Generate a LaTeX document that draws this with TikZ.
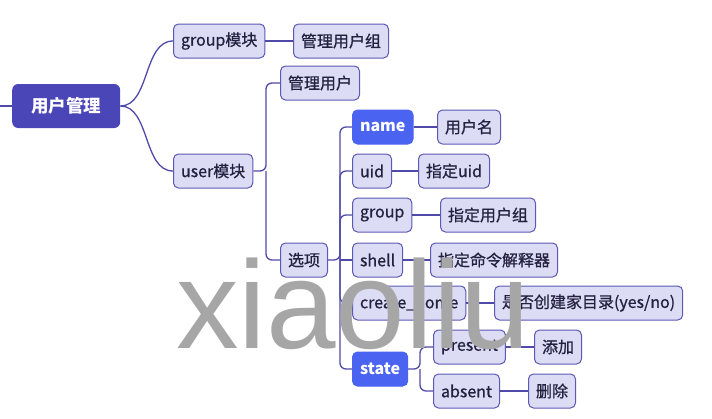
\documentclass[tikz,border=0pt]{standalone}
\usepackage{fontspec}
\setmainfont{Noto Sans CJK SC}
\newfontfamily\medfont{Noto Sans CJK SC}[FakeBold=0.7]
\newfontfamily\wmfont{Liberation Sans}
\definecolor{linkc}{HTML}{4F4AA8}
\definecolor{boxfill}{HTML}{DCDCF5}
\definecolor{boxdraw}{HTML}{5C58B5}
\definecolor{rootfill}{HTML}{4B46B8}
\definecolor{bluefill}{HTML}{4A63F0}
\definecolor{txt}{HTML}{23213F}
\definecolor{wm}{HTML}{A6A6A6}
\tikzset{
  leaf/.style={draw=boxdraw, line width=1pt, fill=boxfill, rounded corners=5pt,
    minimum height=34pt, inner xsep=7.5pt, anchor=west, text=txt, font=\medfont\fontsize{16}{16}\selectfont},
  hl/.style={leaf, fill=bluefill, draw=bluefill, text=white, font=\fontsize{16}{16}\selectfont\bfseries},
  rootbox/.style={fill=rootfill, rounded corners=6pt, minimum width=108pt, minimum height=44pt,
    anchor=west, text=white, font=\fontsize{17.5}{17.5}\selectfont\bfseries},
  link/.style={draw=linkc, line width=1.3pt, rounded corners=6pt},
}
\begin{document}
\begin{tikzpicture}[x=1pt,y=-1pt]
\useasboundingbox (0,0) rectangle (712,418);
\node[rootbox] (root) at (12,106) {用户管理};
\coordinate (rin) at (0,106);
\node[leaf] (gm) at (173,41) {group模块};
\node[leaf] (gmu) at (293,41) {管理用户组};
\node[leaf] (um) at (173,171) {user模块};
\node[leaf] (mu) at (280,83) {管理用户};
\node[leaf] (opt) at (280,260) {选项};
\node[hl] (name) at (352,127) {name};
\node[leaf] (namev) at (437,127) {用户名};
\node[leaf] (uid) at (352,171) {uid};
\node[leaf] (uidv) at (418,171) {指定uid};
\node[leaf] (grp) at (352,215) {group};
\node[leaf] (grpv) at (440,215) {指定用户组};
\node[leaf] (sh) at (352,260) {shell};
\node[leaf] (shv) at (430,260) {指定命令解释器};
\node[leaf] (ch) at (352,303) {create\_home};
\node[leaf] (chv) at (494,303) {是否创建家目录(yes/no)};
\node[hl] (st) at (352,369) {state};
\node[leaf] (pr) at (433,347) {present};
\node[leaf] (prv) at (534,347) {添加};
\node[leaf] (ab) at (433,391) {absent};
\node[leaf] (abv) at (528,391) {删除};
\coordinate (ub) at (266,171);
\coordinate (ob) at (340,260);
\coordinate (sb) at (420,369);
\begin{scope}[on background layer/.try]
\draw[link] (rin) -- (root.west);
\draw[link] (root.east) .. controls (150,106) and (143,41) .. (gm.west);
\draw[link] (root.east) .. controls (150,106) and (143,171) .. (um.west);
\draw[link] (gm.east) -- (gmu.west);
\draw[link] (um.east) -- (ub) |- (mu.west);
\draw[link] (ub) |- (opt.west);
\draw[link] (opt.east) -- (ob) |- (name.west);
\draw[link] (ob) |- (uid.west);
\draw[link] (ob) |- (grp.west);
\draw[link] (ob) -- (sh.west);
\draw[link] (ob) |- (ch.west);
\draw[link] (ob) |- (st.west);
\draw[link] (name.east) -- (namev.west);
\draw[link] (uid.east) -- (uidv.west);
\draw[link] (grp.east) -- (grpv.west);
\draw[link] (sh.east) -- (shv.west);
\draw[link] (ch.east) -- (chv.west);
\draw[link] (st.east) -- (sb) |- (pr.west);
\draw[link] (sb) |- (ab.west);
\draw[link] (pr.east) -- (prv.west);
\draw[link] (ab.east) -- (abv.west);
\end{scope}
\node[anchor=base west, inner sep=0pt, text=wm, font=\wmfont\fontsize{125}{125}\selectfont] (wmk) at (176,348) {xiaoliu};
\end{tikzpicture}
\end{document}
